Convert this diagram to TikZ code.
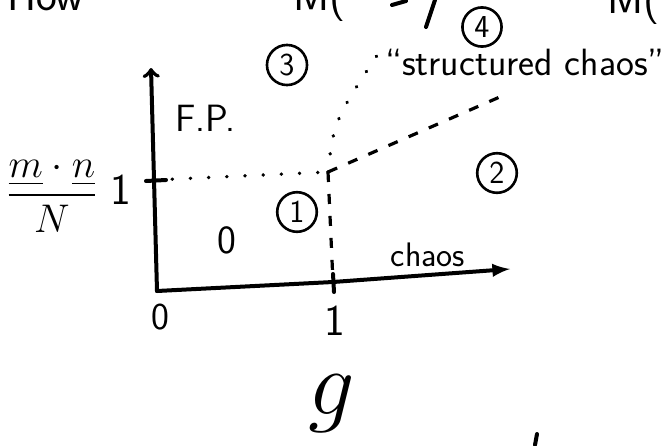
\documentclass[tikz,border=0pt]{standalone}
\usepackage{fix-cm}
\usepackage{amsmath}
\usepackage{tikz}
\usetikzlibrary{arrows,calc}

\begin{document}
\begin{tikzpicture}[>=latex,x=0.5pt,y=-0.5pt,
  every node/.style={font=\sffamily\fontsize{17}{20}\selectfont},
  num/.style={draw,circle,line width=1.3pt,inner sep=2.4pt,font=\sffamily\fontsize{16}{18}\selectfont},
  big/.style={font=\sffamily\fontsize{22}{26}\selectfont},
  ax/.style={line width=2pt,line cap=round},
  dots/.style={line width=1.8pt,line cap=round,dash pattern=on 0.1pt off 9pt},
  dashes/.style={line width=1.6pt,dash pattern=on 5pt off 6pt}]
\useasboundingbox (0,0) rectangle (664,445);
\coordinate (O) at (157,291);
\coordinate (Ytop) at (151,68);
\coordinate (Y1) at (154,180);
\coordinate (X1) at (333,282);
\coordinate (Xend) at (510,269);
\coordinate (C) at (328,172);
\coordinate (Dtop) at (386,42);
\coordinate (Dend) at (502,96);
% axes
\draw[ax,-to] (O) -- (Ytop);
\draw[ax,->] (O) -- (X1) -- (Xend);
\draw[ax] ($(Y1)+(-8,1)$) -- ($(Y1)+(12,0)$);
\draw[ax] ($(X1)+(0,-8)$) -- ($(X1)+(1,10)$);
% borders of the regions
\draw[dots] (Y1) -- (C);
\draw[dots] (C) .. controls (334,120) .. (Dtop);
\draw[dashes] (C) -- (Dend);
\draw[dashes] (C) -- (X1);
% labels
\node (frac) at (52,196) {\fontsize{20}{24}\selectfont$\displaystyle\frac{\underline{m}\cdot\underline{n}}{N}$};
\node[big] (one) at (121,190) {1};
\node[font=\sffamily\fontsize{19}{22}\selectfont] (fp) at (205,118) {F.P.};
\node[num] (n3) at (287,65) {3};
\node[num] (n4) at (482,27) {4};
\node[font=\sffamily\fontsize{19}{22}\selectfont] (sc) at (525,62) {``structured chaos''};
\node[font=\sffamily\fontsize{20}{24}\selectfont] (zero) at (227,240) {0};
\node[num] (n1) at (297,212) {1};
\node[num] (n2) at (497,173) {2};
\node (chaos) at (428,255) {chaos};
\node[font=\sffamily\fontsize{19}{22}\selectfont] (o0) at (160,317) {0};
\node[big] (o1) at (335,321) {1};
\node[inner sep=0pt] (g) at (332,404) {\fontsize{46}{50}\selectfont$g$};
% what is cut at the edges
\begin{scope}
\clip (0,0) rectangle (664,445);
\node[big,anchor=base west] (how) at (0,10) {How};
\node[big,anchor=base] (m1) at (320,10) {M(};
\node[big,anchor=base] (m2) at (634,13) {M(};
\draw[ax] (435,0) -- (426,27);
\draw[ax] (392,5) -- (406,1);
\draw[ax] (537,434) -- (535,445);
\end{scope}
\end{tikzpicture}
\end{document}
